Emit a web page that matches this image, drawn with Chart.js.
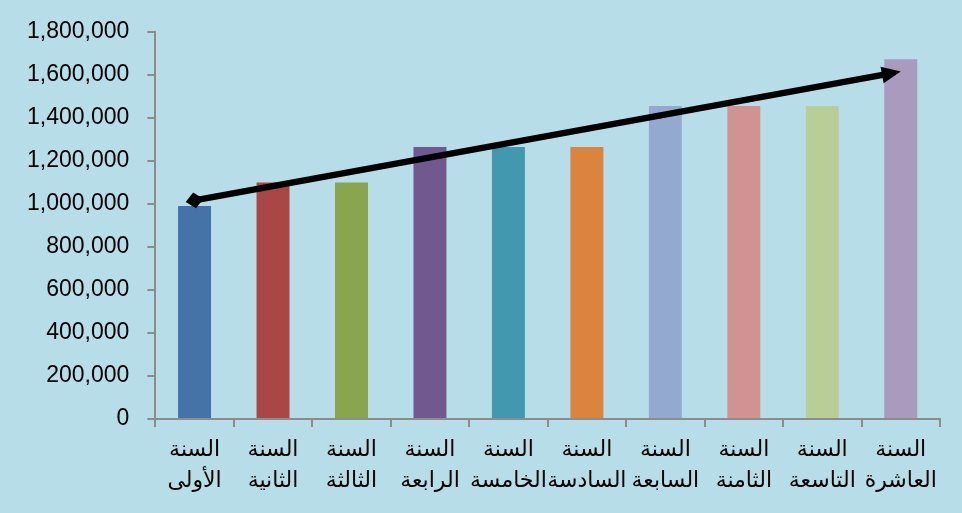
<!DOCTYPE html>
<html>
<head>
<meta charset="utf-8">
<script src="https://cdn.jsdelivr.net/npm/chart.js@4/dist/chart.umd.min.js"></script>
<style>
  html, body { margin: 0; padding: 0; background: #b7dde8; }
  canvas { display: block; }
</style>
</head>
<body>
<canvas id="years-chart" width="962" height="513"></canvas>
<script>
const years = [
    ['السنة', 'الأولى'],
    ['السنة', 'الثانية'],
    ['السنة', 'الثالثة'],
    ['السنة', 'الرابعة'],
    ['السنة', 'الخامسة'],
    ['السنة', 'السادسة'],
    ['السنة', 'السابعة'],
    ['السنة', 'الثامنة'],
    ['السنة', 'التاسعة'],
    ['السنة', 'العاشرة'],
];

const amounts = [990000, 1100000, 1100000, 1265000, 1265000, 1265000, 1454750, 1454750, 1454750, 1672963];

const barColors = [
    '#4572a7', '#aa4643', '#89a54e', '#71588f', '#4198af',
    '#db843d', '#93a9cf', '#d19392', '#b9cd96', '#a99bbd',
];

// trend arrow, given as [category index, value] at each end
const trendStart = [0, 1016000];
const trendEnd = [9, 1615000];

const axisColor = '#8c8c8c';

const trendArrow = {
    id: 'trendArrow',
    afterDatasetsDraw(chart) {
        const { ctx, scales: { x, y } } = chart;
        const x1 = x.getPixelForValue(trendStart[0]);
        const y1 = y.getPixelForValue(trendStart[1]);
        const x2 = x.getPixelForValue(trendEnd[0]);
        const y2 = y.getPixelForValue(trendEnd[1]);
        const angle = Math.atan2(y2 - y1, x2 - x1);
        const len = Math.hypot(x2 - x1, y2 - y1);
        const headLen = 19;
        const headHalf = 8.5;

        ctx.save();
        ctx.translate(x1, y1);
        ctx.rotate(angle);
        ctx.fillStyle = '#000';

        // shaft
        ctx.fillRect(0, -3.2, len - headLen + 2, 6.4);

        // diamond at the start
        ctx.beginPath();
        ctx.moveTo(-9, 0);
        ctx.lineTo(0, -8);
        ctx.lineTo(9, 0);
        ctx.lineTo(0, 8);
        ctx.closePath();
        ctx.fill();

        // arrow head at the end
        ctx.beginPath();
        ctx.moveTo(len, 0);
        ctx.lineTo(len - headLen, -headHalf);
        ctx.lineTo(len - headLen, headHalf);
        ctx.closePath();
        ctx.fill();
        ctx.restore();
    },
};

const data = {
    labels: years,
    datasets: [{
        data: amounts,
        backgroundColor: barColors,
        barPercentage: 0.42,
        categoryPercentage: 1,
    }],
};

const config = {
    type: 'bar',
    data: data,
    plugins: [trendArrow],
    options: {
        responsive: false,
        animation: false,
        layout: {
            padding: { top: 22, right: 22, left: 9, bottom: 8 },
        },
        plugins: {
            legend: { display: false },
            tooltip: { enabled: false },
        },
        scales: {
            x: {
                grid: {
                    offset: true,
                    drawOnChartArea: false,
                    color: axisColor,
                    lineWidth: 2,
                    tickLength: 8,
                },
                border: { color: axisColor, width: 2 },
                ticks: {
                    autoSkip: false,
                    color: '#000',
                    maxRotation: 0,
                    padding: 8,
                    font: { family: 'Liberation Serif, DejaVu Sans', size: 22, lineHeight: '31px' },
                },
            },
            y: {
                min: 0,
                max: 1800000,
                grid: {
                    drawOnChartArea: false,
                    color: axisColor,
                    lineWidth: 2,
                    tickLength: 8,
                },
                border: { color: axisColor, width: 2 },
                ticks: {
                    stepSize: 200000,
                    color: '#000',
                    padding: 18,
                    font: { family: 'Liberation Sans', size: 23 },
                    callback: (v) => v.toLocaleString('en-US'),
                },
            },
        },
    },
};

new Chart(document.querySelector('#years-chart'), config);
</script>
</body>
</html>
